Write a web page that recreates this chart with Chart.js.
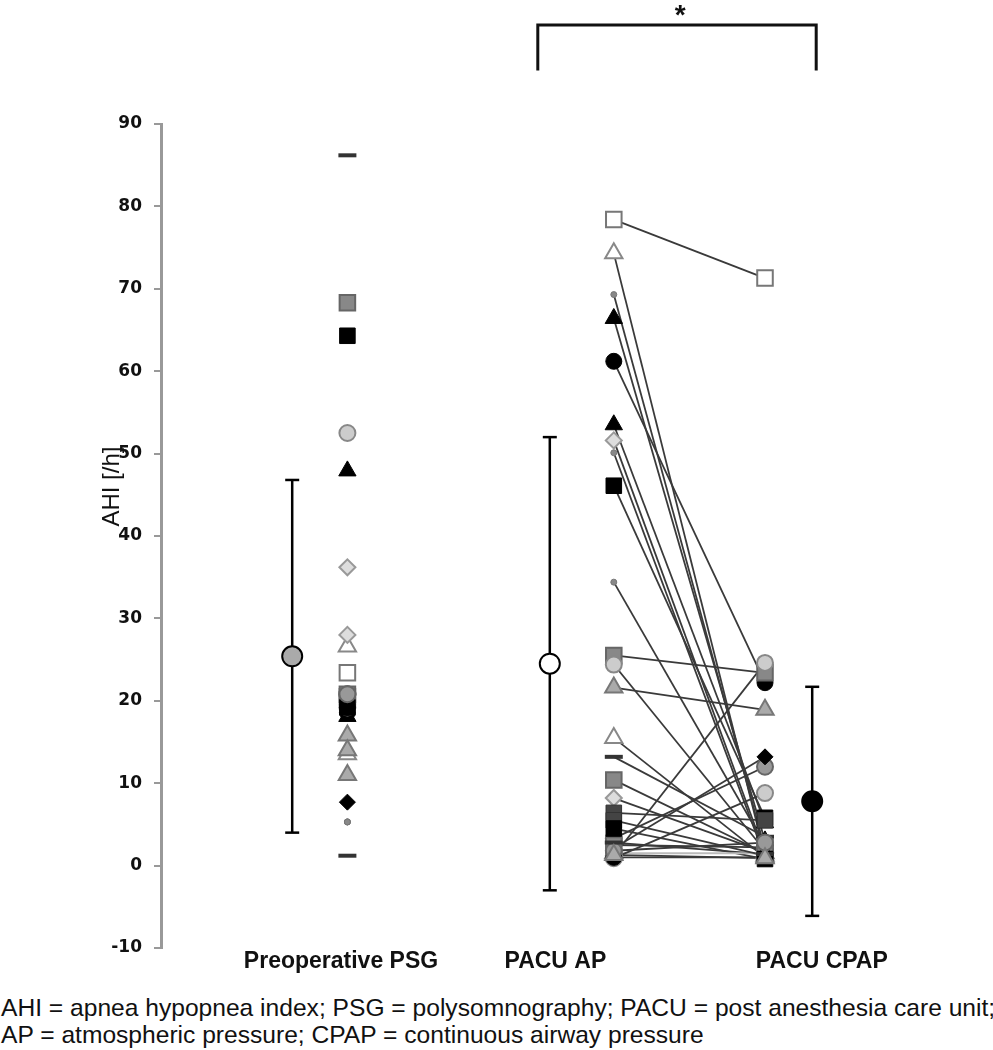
<!DOCTYPE html>
<html>
<head>
<meta charset="utf-8">
<script src="https://cdn.jsdelivr.net/npm/chart.js@4.4.1/dist/chart.umd.min.js"></script>
<style>
	html, body { margin: 0; padding: 0; background: #fff; }
	#wrap { position: relative; width: 993px; height: 985px; }
	.note {
		font-family: "Liberation Sans Narrow", "Liberation Sans", Arial, sans-serif;
		font-size: 24.6px; color: #111; white-space: nowrap; overflow: hidden;
		width: 993px; line-height: 27px; padding-left: 1px;
	}
	#note1 { padding-top: 9px; }
</style>
</head>
<body>
<div id="wrap"><canvas id="chart" width="993" height="985"></canvas></div>
<div class="note" id="note1">AHI = apnea hypopnea index; PSG = polysomnography; PACU = post anesthesia care unit;</div>
<div class="note" id="note2">AP = atmospheric pressure; CPAP = continuous airway pressure</div>
<script>
// groups on the x axis
const categories = ["Preoperative PSG", "PACU AP", "PACU CPAP"];
const yTicks = [-10, 0, 10, 20, 30, 40, 50, 60, 70, 80, 90];
const yTitle = "AHI [/h]";

// AHI per patient (same patient order in each list)
const preopAHI = [23.4, 26.6, 5.3, 47.9, 18.6, 18.1, 36.2, 5.3, 64.3, 5.3,
	68.3, 52.5, 15.8, 13.5, 86.2, 20.5, 28.0, 19.5, 20.0, 20.8,
	7.7, 19.2, 11.0, 20.8, 20.8, 19.2, 19.2, 20.8, 1.2, 14.0];
const apAHI = [78.4, 74.3, 69.3, 66.4, 61.2, 53.5, 51.6, 50.1, 46.1, 34.4,
	25.5, 24.4, 21.6, 15.5, 13.2, 10.4, 8.2, 6.4, 5.5, 3.3,
	2.1, 0.9, 1.5, 1.2, 2.5, 1.0, 4.5, 1.8, 2.8, 1.3];
const cpapAHI = [71.3, 1.2, 2.0, 3.0, 22.2, 5.2, 1.5, 1.0, 5.8, 2.5,
	23.4, 1.8, 18.9, 1.0, 3.5, 1.5, 1.6, 5.5, 1.2, 12.0,
	13.2, 8.8, 1.5, 24.6, 2.2, 1.0, 0.8, 2.8, 1.4, 0.9];

// group mean and SD
const groupMean = [25.4, 24.5, 7.8];
const groupSD = [21.4, 27.5, 13.9];

// marker kind per patient
const markerKind = ["sqOpen", "trOpen", "dot", "trBlack", "ciBlack", "trBlack", "diLight", "dot", "sqBlack", "dot",
	"sqGray", "ciLight", "trGray", "trOpen", "dash", "sqGray", "diLight", "sqDark", "sqDark", "ciGray",
	"diBlack", "ciLight", "trGray", "ciLight", "sqGray", "ciBlack", "sqBlack", "ciGray", "dash", "trGray"];

// x placement (axis units 0..10)
const labelX = [2.25, 4.93, 8.26];
const pointX = [2.33, 5.66, 7.55];
const meanX = [1.64, 4.86, 8.14];
const bracket = { from: 4.71, to: 8.19, top: 102, leg: 96.5, star: 6.49 };

const styles = {
	sqOpen: { shape: "rect", r: 11, fill: "#fff", line: "#777", w: 2 },
	sqGray: { shape: "rect", r: 11, fill: "#888", line: "#666", w: 2 },
	sqBlack: { shape: "rect", r: 11, fill: "#000", line: "#000", w: 1 },
	sqDark: { shape: "rect", r: 11, fill: "#444", line: "#333", w: 1 },
	ciGray: { shape: "circle", r: 8, fill: "#999", line: "#666", w: 2 },
	ciLight: { shape: "circle", r: 8, fill: "#ccc", line: "#888", w: 2 },
	ciBlack: { shape: "circle", r: 8, fill: "#000", line: "#000", w: 1 },
	trBlack: { shape: "triangle", r: 10, fill: "#000", line: "#000", w: 1 },
	trOpen: { shape: "triangle", r: 10, fill: "#fff", line: "#888", w: 2 },
	trGray: { shape: "triangle", r: 10, fill: "#aaa", line: "#777", w: 2 },
	diLight: { shape: "rectRot", r: 8, fill: "#ddd", line: "#999", w: 2 },
	diBlack: { shape: "rectRot", r: 8, fill: "#000", line: "#000", w: 1 },
	dash: { shape: "line", r: 9, fill: "#333", line: "#333", w: 4 },
	dot: { shape: "circle", r: 3, fill: "#888", line: "#777", w: 1 },
};

const groupPoints = (vals, g) => ({
	type: "scatter",
	data: vals.map((v) => ({ x: pointX[g], y: v })),
	pointStyle: markerKind.map((k) => styles[k].shape),
	pointRadius: markerKind.map((k) => styles[k].r),
	backgroundColor: markerKind.map((k) => styles[k].fill),
	borderColor: markerKind.map((k) => styles[k].line),
	borderWidth: markerKind.map((k) => styles[k].w),
	order: 1,
});

const pairLines = apAHI.map((v, i) => ({
	type: "line",
	data: [{ x: pointX[1], y: v }, { x: pointX[2], y: cpapAHI[i] }],
	borderColor: i == 22 ? "#bbb" : "#3a3a3a",
	borderWidth: 1.8,
	pointRadius: 0,
	order: 3,
}));

const errorBars = groupMean.map((m, g) => ({
	type: "line",
	data: [{ x: meanX[g], y: m - groupSD[g] }, { x: meanX[g], y: m + groupSD[g] }],
	borderColor: "#000",
	borderWidth: 2.5,
	pointStyle: "line",
	pointRadius: 7,
	pointBorderWidth: 2.5,
	pointBorderColor: "#000",
	order: 2,
}));

const means = {
	type: "scatter",
	data: groupMean.map((m, g) => ({ x: meanX[g], y: m })),
	pointStyle: "circle",
	pointRadius: 10,
	backgroundColor: ["#aaa", "#fff", "#000"],
	borderColor: "#000",
	borderWidth: 2,
	order: 0,
};

const extrasPlugin = {
	id: "extras",
	afterDraw(chart) {
		const { ctx, scales } = chart;
		const x1 = scales.x.getPixelForValue(bracket.from);
		const x2 = scales.x.getPixelForValue(bracket.to);
		const yt = scales.y.getPixelForValue(bracket.top);
		const yl = scales.y.getPixelForValue(bracket.leg);
		ctx.save();
		ctx.strokeStyle = "#111";
		ctx.lineWidth = 3;
		ctx.beginPath();
		ctx.moveTo(x1, yl);
		ctx.lineTo(x1, yt);
		ctx.lineTo(x2, yt);
		ctx.lineTo(x2, yl);
		ctx.stroke();
		ctx.fillStyle = "#111";
		ctx.font = "bold 28px 'Liberation Sans'";
		ctx.textAlign = "center";
		ctx.textBaseline = "top";
		ctx.fillText("*", scales.x.getPixelForValue(bracket.star), yt - 23);
		// y axis title, sits above the middle like the original
		ctx.translate(112, scales.y.getPixelForValue(46));
		ctx.rotate(-Math.PI / 2);
		ctx.textBaseline = "middle";
		ctx.font = "24px 'Liberation Sans'";
		ctx.fillText(yTitle, 0, 0);
		ctx.restore();
	},
};

new Chart(document.getElementById("chart"), {
	data: { datasets: [means, groupPoints(preopAHI, 0), groupPoints(apAHI, 1), groupPoints(cpapAHI, 2), ...errorBars, ...pairLines] },
	options: {
		responsive: false,
		animation: false,
		layout: { padding: { top: 124, right: 32, bottom: 3, left: 0 } },
		plugins: { legend: { display: false }, tooltip: { enabled: false } },
		scales: {
			x: {
				type: "linear",
				min: 0,
				max: 10,
				afterBuildTicks: (s) => { s.ticks = labelX.map((v) => ({ value: v })); },
				afterFit: (s) => { s.height = 34; },
				ticks: {
					autoSkip: false,
					maxRotation: 0,
					padding: 0,
					color: "#111",
					font: { family: "Liberation Sans", size: 23, weight: "bold" },
					callback: (v, i) => categories[i],
				},
				grid: { display: false, drawTicks: false },
				border: { display: false },
			},
			y: {
				type: "linear",
				min: -10,
				max: 90,
				afterBuildTicks: (s) => { s.ticks = yTicks.map((v) => ({ value: v })); },
				afterFit: (s) => { s.width = 161; },
				ticks: {
					padding: 12,
					color: "#111",
					font: { family: "DejaVu Sans", size: 17, weight: "bold" },
				},
				grid: { drawOnChartArea: false, drawTicks: true, tickLength: 7, color: "#999", lineWidth: 2 },
				border: { display: true, color: "#999", width: 3 },
			},
		},
	},
	plugins: [extrasPlugin],
});
</script>
</body>
</html>
